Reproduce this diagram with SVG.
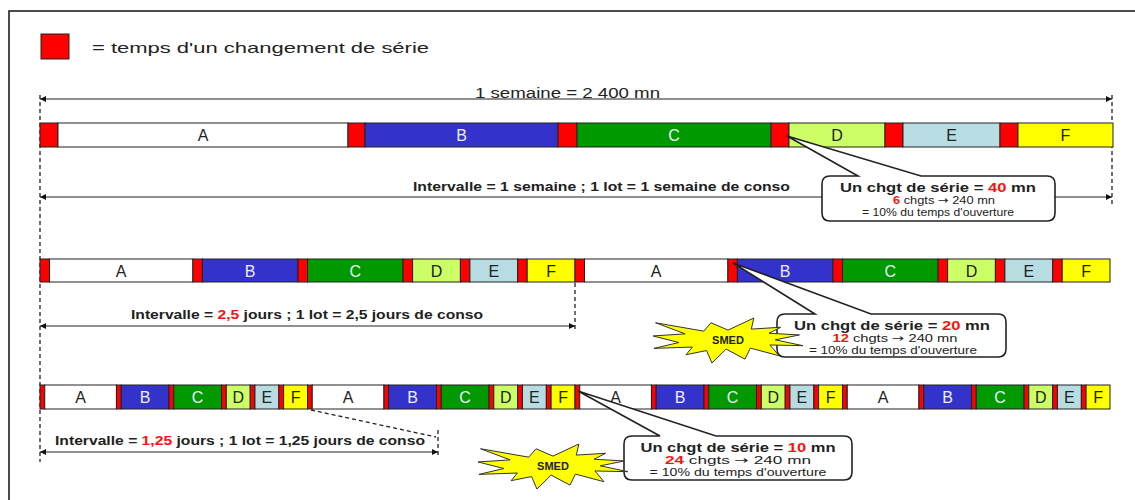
<svg xmlns="http://www.w3.org/2000/svg" xmlns:xlink="http://www.w3.org/1999/xlink" width="1135" height="500" viewBox="0 0 1135 500">
<style>
text{font-family:"Liberation Sans",Arial,sans-serif;fill:#222}
.seg{stroke:#222;stroke-width:1}
.r{fill:#FF0000}.a{fill:#FFFFFF}.b{fill:#3333CC}.c{fill:#009900}.d{fill:#CCFF66}.e{fill:#B7DDE3}.f{fill:#FFFF00}
.lb{font-size:16px;text-anchor:middle}
.lw{fill:#EEEEFF}
.dim{stroke:#222;stroke-width:1.2;fill:none;marker-start:url(#ar);marker-end:url(#ar)}
.dash{stroke:#222;stroke-width:1.3;stroke-dasharray:4,3;fill:none}
.dt{font-size:12.5px;font-weight:bold}
.red{fill:#FF1010}
.arw{font-family:"DejaVu Sans",sans-serif}
.co{fill:#FFFFFF;stroke:#222;stroke-width:1.6}
.c1{font-size:13px;font-weight:bold;text-anchor:middle}
.c2{font-size:10.5px;text-anchor:middle}
.star{fill:#FFFF00;stroke:#333;stroke-width:1}
.sm{font-size:11px;font-weight:bold;text-anchor:middle}
</style>
<defs>
<marker id="ar" viewBox="0 0 10 10" refX="10" refY="5" markerWidth="9" markerHeight="6" orient="auto-start-reverse" markerUnits="userSpaceOnUse"><path d="M0,0 L10,5 L0,10 z" fill="#111"/></marker>
<polygon id="star" points="75,12.08 100.85,0 98.3,11.09 127.64,9.29 115.99,15.24 146.51,16.95 122.27,21.82 150,27.69 116.92,26.96 126.01,37.7 97.36,30.12 91.99,41.12 73.14,31.11 58.92,45 53.58,32.56 33.07,36.7 39.35,29.04 0.94,30.39 25.85,24.53 0,17.95 32.13,15.87 2.57,4.78 50.78,13.17 58,4.78"/>
<g id="cyc2">
<rect class="seg r" x="0" y="0" width="9.5" height="23"/>
<rect class="seg a" x="9.5" y="0" width="143.4" height="23"/>
<rect class="seg r" x="152.9" y="0" width="9.5" height="23"/>
<rect class="seg b" x="162.4" y="0" width="95.6" height="23"/>
<rect class="seg r" x="258" y="0" width="9.5" height="23"/>
<rect class="seg c" x="267.5" y="0" width="95.6" height="23"/>
<rect class="seg r" x="363.1" y="0" width="9.5" height="23"/>
<rect class="seg d" x="372.6" y="0" width="47.8" height="23"/>
<rect class="seg r" x="420.4" y="0" width="9.5" height="23"/>
<rect class="seg e" x="429.9" y="0" width="47.8" height="23"/>
<rect class="seg r" x="477.7" y="0" width="9.5" height="23"/>
<rect class="seg f" x="487.2" y="0" width="47.8" height="23"/>
<text class="lb" x="81.2" y="17.5">A</text>
<text class="lb lw" x="210.2" y="17.5">B</text>
<text class="lb lw" x="315.3" y="17.5">C</text>
<text class="lb" x="396.5" y="17.5">D</text>
<text class="lb" x="453.8" y="17.5">E</text>
<text class="lb" x="511.1" y="17.5">F</text>
</g>
<g id="cyc3">
<rect class="seg r" x="0" y="0" width="4.75" height="24"/>
<rect class="seg a" x="4.75" y="0" width="71.7" height="24"/>
<rect class="seg r" x="76.45" y="0" width="4.75" height="24"/>
<rect class="seg b" x="81.2" y="0" width="47.8" height="24"/>
<rect class="seg r" x="129" y="0" width="4.75" height="24"/>
<rect class="seg c" x="133.75" y="0" width="47.8" height="24"/>
<rect class="seg r" x="181.55" y="0" width="4.75" height="24"/>
<rect class="seg d" x="186.3" y="0" width="23.9" height="24"/>
<rect class="seg r" x="210.2" y="0" width="4.75" height="24"/>
<rect class="seg e" x="214.95" y="0" width="23.9" height="24"/>
<rect class="seg r" x="238.85" y="0" width="4.75" height="24"/>
<rect class="seg f" x="243.6" y="0" width="23.9" height="24"/>
<text class="lb" x="40.6" y="18">A</text>
<text class="lb lw" x="105.1" y="18">B</text>
<text class="lb lw" x="157.65" y="18">C</text>
<text class="lb" x="198.25" y="18">D</text>
<text class="lb" x="226.9" y="18">E</text>
<text class="lb" x="255.55" y="18">F</text>
</g>
</defs>

<rect x="9" y="11" width="1140" height="500" fill="#FFFFFF" stroke="#111" stroke-width="1.5"/>

<g id="legend">
<rect class="seg r" x="41" y="34" width="28" height="25" stroke-width="1.2"/>
<text x="92" y="53" font-size="15" textLength="337" lengthAdjust="spacingAndGlyphs">= temps d'un changement de série</text>
</g>

<g id="connectors">
<path class="dash" d="M40,95 V462"/>
<path class="dash" d="M1112,95 V206"/>
<path class="dash" d="M575,283 V332"/>
<path class="dash" d="M438,430 V458"/>
<path class="dash" d="M311,410 L436,437"/>
<line class="dim" x1="40" y1="99" x2="1112" y2="99"/>
<line class="dim" x1="40" y1="197" x2="1112" y2="197"/>
<line class="dim" x1="40" y1="326" x2="575" y2="326"/>
<line class="dim" x1="40" y1="452" x2="438" y2="452"/>
</g>

<g id="dim-labels">
<text x="475" y="98" font-size="14" textLength="185" lengthAdjust="spacingAndGlyphs">1 semaine = 2 400 mn</text>
<text class="dt" x="413" y="191" textLength="377" lengthAdjust="spacingAndGlyphs">Intervalle = 1 semaine ; 1 lot = 1 semaine de conso</text>
<text class="dt" x="131" y="319" textLength="352" lengthAdjust="spacingAndGlyphs">Intervalle = <tspan class="red">2,5</tspan> jours ; 1 lot = 2,5 jours de conso</text>
<text class="dt" x="55" y="445" textLength="370" lengthAdjust="spacingAndGlyphs">Intervalle = <tspan class="red">1,25</tspan> jours ; 1 lot = 1,25 jours de conso</text>
</g>

<g id="row1">
<rect class="seg r" x="40" y="123" width="18" height="24"/>
<rect class="seg a" x="58" y="123" width="290" height="24"/>
<rect class="seg r" x="348" y="123" width="17" height="24"/>
<rect class="seg b" x="365" y="123" width="193" height="24"/>
<rect class="seg r" x="558" y="123" width="19" height="24"/>
<rect class="seg c" x="577" y="123" width="194" height="24"/>
<rect class="seg r" x="771" y="123" width="18" height="24"/>
<rect class="seg d" x="789" y="123" width="96" height="24"/>
<rect class="seg r" x="885" y="123" width="18" height="24"/>
<rect class="seg e" x="903" y="123" width="97" height="24"/>
<rect class="seg r" x="1000" y="123" width="18" height="24"/>
<rect class="seg f" x="1018" y="123" width="95" height="24"/>
<text class="lb" x="203" y="141">A</text>
<text class="lb lw" x="461.5" y="141">B</text>
<text class="lb lw" x="674" y="141">C</text>
<text class="lb" x="837" y="141">D</text>
<text class="lb" x="951.5" y="141">E</text>
<text class="lb" x="1065.5" y="141">F</text>
</g>

<g id="row2">
<use xlink:href="#cyc2" x="40" y="259"/>
<use xlink:href="#cyc2" x="575" y="259"/>
</g>

<g id="row3">
<use xlink:href="#cyc3" x="40" y="385"/>
<use xlink:href="#cyc3" x="307.5" y="385"/>
<use xlink:href="#cyc3" x="575" y="385"/>
<use xlink:href="#cyc3" x="842.5" y="385"/>
</g>

<g id="callout1">
<path class="co" d="M830,176 L858,176 L787,136 L921,176 L1047,176 Q1055,176 1055,184 L1055,213 Q1055,221 1047,221 L830,221 Q822,221 822,213 L822,184 Q822,176 830,176 Z"/>
<text class="c1" x="938" y="192" textLength="196" lengthAdjust="spacingAndGlyphs">Un chgt de série = <tspan class="red">40</tspan> mn</text>
<text class="c2" x="944" y="204" textLength="102" lengthAdjust="spacingAndGlyphs"><tspan class="red" font-weight="bold">6</tspan> chgts <tspan class="arw">→</tspan> 240 mn</text>
<text class="c2" x="938" y="216" textLength="152" lengthAdjust="spacingAndGlyphs">= 10% du temps d'ouverture</text>
</g>

<g id="callout2">
<path class="co" d="M785,314 L815,314 L733,263 L871,314 L998,314 Q1006,314 1006,322 L1006,349 Q1006,357 998,357 L785,357 Q777,357 777,349 L777,322 Q777,314 785,314 Z"/>
<text class="c1" x="892" y="330" textLength="196" lengthAdjust="spacingAndGlyphs">Un chgt de série = <tspan class="red">20</tspan> mn</text>
<text class="c2" x="895" y="342" textLength="125" lengthAdjust="spacingAndGlyphs" font-size="11.5"><tspan class="red" font-weight="bold">12</tspan> chgts <tspan class="arw">→</tspan> 240 mn</text>
<text class="c2" x="893" y="354" textLength="168" lengthAdjust="spacingAndGlyphs" font-size="11.5">= 10% du temps d'ouverture</text>
</g>

<g id="callout3">
<path class="co" d="M632,436 L660,436 L578,391 L716,436 L844,436 Q852,436 852,444 L852,472 Q852,480 844,480 L632,480 Q624,480 624,472 L624,444 Q624,436 632,436 Z"/>
<text class="c1" x="738" y="452" textLength="195" lengthAdjust="spacingAndGlyphs">Un chgt de série = <tspan class="red">10</tspan> mn</text>
<text class="c2" x="738" y="464" textLength="146" lengthAdjust="spacingAndGlyphs" font-size="11.5"><tspan class="red" font-weight="bold">24</tspan> chgts <tspan class="arw">→</tspan> 240 mn</text>
<text class="c2" x="738" y="476" textLength="177" lengthAdjust="spacingAndGlyphs" font-size="11.5">= 10% du temps d'ouverture</text>
</g>

<g id="smed1">
<use xlink:href="#star" class="star" x="653" y="318"/>
<text class="sm" x="728" y="344">SMED</text>
</g>

<g id="smed2">
<use xlink:href="#star" class="star" x="478" y="444"/>
<text class="sm" x="553" y="470">SMED</text>
</g>
</svg>
